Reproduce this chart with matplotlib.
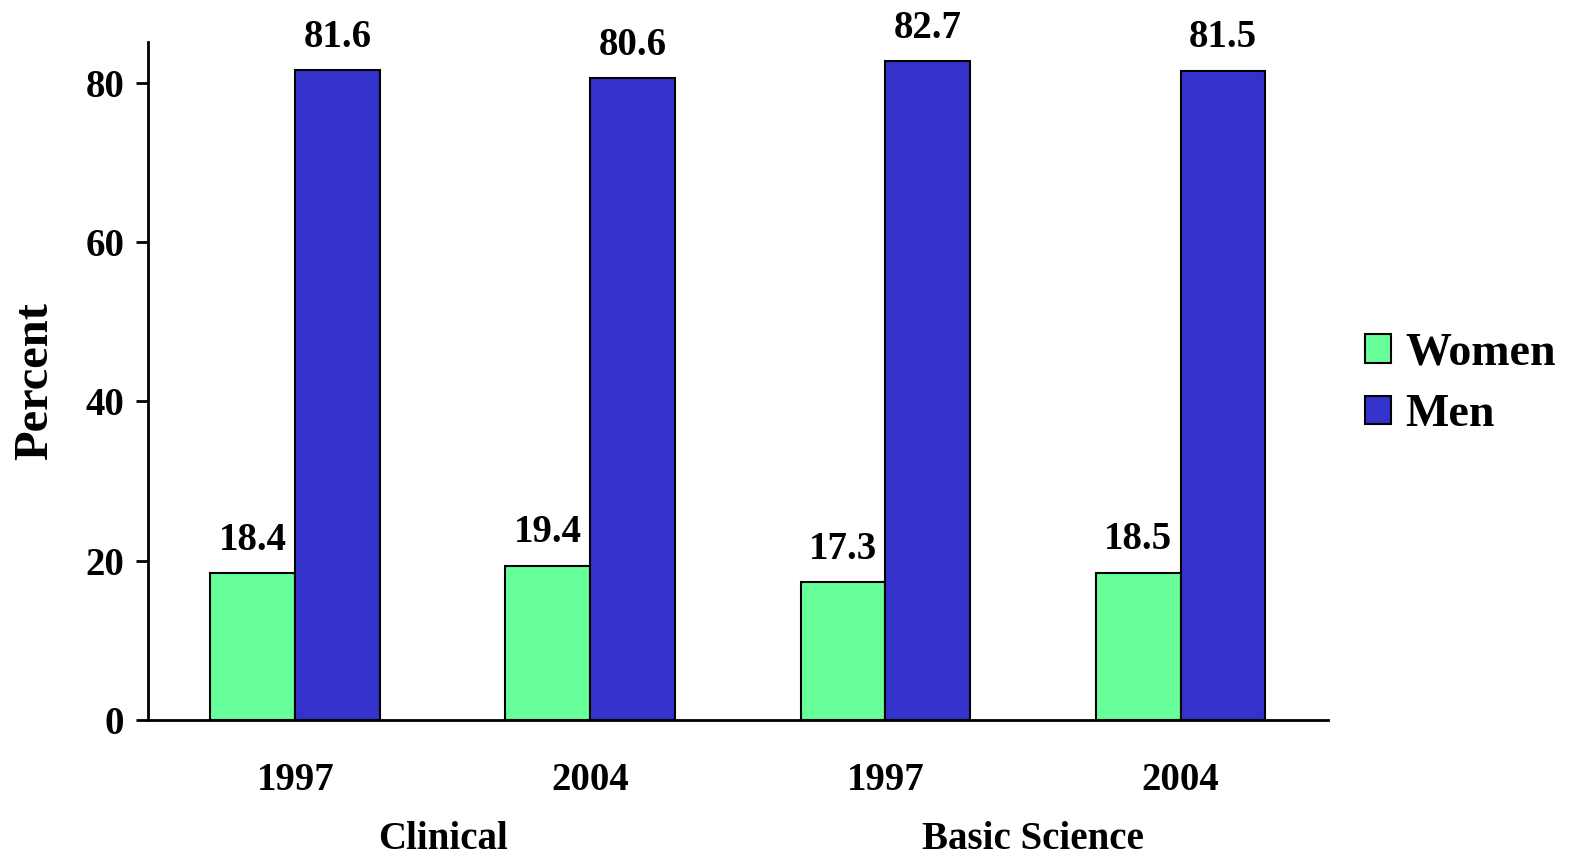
import matplotlib.pyplot as plt
import matplotlib.transforms as mtransforms
import numpy as np

plt.rcParams['font.family'] = ['Liberation Serif', 'DejaVu Serif']
plt.rcParams['font.weight'] = 'bold'

years = ["1997", "2004", "1997", "2004"]
groups = ["Clinical", "Basic Science"]
women = [18.4, 19.4, 17.3, 18.5]
men = [81.6, 80.6, 82.7, 81.5]

green = "#66ff99"
blue = "#3333cc"

fig = plt.figure(figsize=(15.72, 8.6), dpi=100)
ax = fig.add_axes([0.0941, 0.1628, 0.7507, 0.7884])

x = np.arange(len(years))
w = 0.288
b1 = ax.bar(x - w / 2, women, w, color=green, edgecolor="black", linewidth=1.5, label="Women")
b2 = ax.bar(x + w / 2, men, w, color=blue, edgecolor="black", linewidth=1.5, label="Men")

for bars, vals in ((b1, women), (b2, men)):
    for r, v in zip(bars, vals):
        ax.annotate(f"{v:.1f}", (r.get_x() + r.get_width() / 2, v),
                    xytext=(0, 17), textcoords="offset points",
                    ha="center", va="baseline", fontsize=28, fontweight="bold")

ax.set_xlim(-0.5, 3.5)
ax.set_ylim(0, 85.15)
ax.set_yticks([0, 20, 40, 60, 80])
ax.set_xticks(x)
ax.set_xticklabels(years)
ax.tick_params(axis="x", length=0, pad=30, labelsize=28)
ax.tick_params(axis="y", length=9, width=2, pad=8, labelsize=28)
for s in ("top", "right"):
    ax.spines[s].set_visible(False)
for s in ("left", "bottom"):
    ax.spines[s].set_linewidth(2)

# group names under each pair of years
trans = mtransforms.blended_transform_factory(ax.transData, fig.transFigure)
for i, g in enumerate(groups):
    ax.text(2 * i + 0.5, 2 / 860, g, transform=trans,
            ha="center", va="bottom", fontsize=28, fontweight="bold")

ax.set_ylabel("Percent", fontsize=35, fontweight="bold", labelpad=20)

leg = ax.legend(loc="center left", bbox_to_anchor=(1.031, 0.495), frameon=False,
                fontsize=33, handlelength=0.58, handleheight=0.58,
                handletextpad=0.3, labelspacing=0.42, borderpad=0, borderaxespad=0)
for t in leg.get_texts():
    t.set_fontweight("bold")

fig.savefig("out.png", dpi=100)
